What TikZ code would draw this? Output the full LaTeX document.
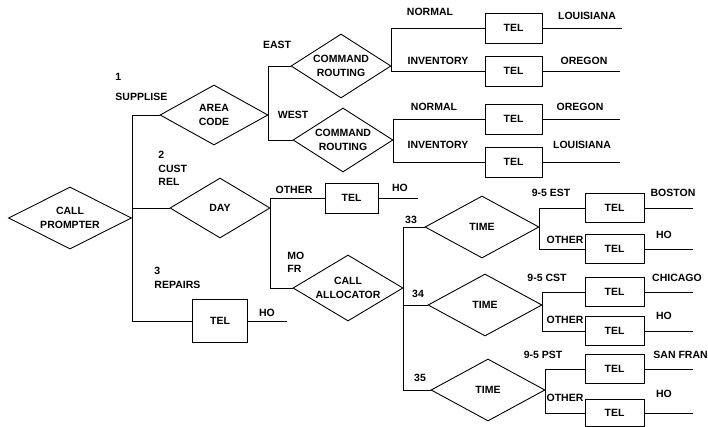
\documentclass[tikz,border=0pt]{standalone}
\usepackage{fontspec}
\setmainfont{Liberation Sans}
\usetikzlibrary{positioning, shapes.geometric}

\begin{document}
\begin{tikzpicture}[
        x=1pt, y=-1pt,
        line width=0.9pt,
        every node/.style={font=\fontsize{10.5}{13.5}\selectfont\bfseries},
        dec/.style={diamond, draw, aspect=2, inner sep=0pt, align=center},
        tel/.style={rectangle, draw, inner sep=0pt, minimum width=57pt, minimum height=30pt},
        telr/.style={tel, minimum width=59pt, minimum height=29pt},
        timebox/.style={dec, minimum width=114pt, minimum height=62pt},
        cmdbox/.style={dec, minimum width=100pt, minimum height=64pt},
        lbl/.style={inner sep=0pt, align=left},
    ]
    \useasboundingbox (0,0) rectangle (708,427);

    % ===== Root =====
    \node[dec, minimum width=123pt, minimum height=62pt] (CP) at (70,218) {CALL\\PROMPTER};

    % ===== Branch 1: supplise =====
    \node[dec, minimum width=108pt, minimum height=60pt] (AC) at (214,115) {AREA\\CODE};
    \node[cmdbox] (CR1) at (341,66) {COMMAND\\ROUTING};
    \node[cmdbox] (CR2) at (343,140) {COMMAND\\ROUTING};

    \node[tel] (T1) at (513.5,28) {TEL};
    \node[tel] (T2) at (513.5,71) {TEL};
    \node[tel] (T3) at (513.5,119) {TEL};
    \node[tel] (T4) at (513.5,162) {TEL};
    \coordinate (E1) at (622,28);
    \coordinate (E2) at (620,71);
    \coordinate (E3) at (620,119);
    \coordinate (E4) at (620,162);

    \draw (CP.east) |- (AC.west);
    \draw (AC.east) |- (CR1.west);
    \draw (AC.east) |- (CR2.west);
    \draw (CR1.east) |- (T1.west);
    \draw (CR1.east) |- (T2.west);
    \draw (CR2.east) |- (T3.west);
    \draw (CR2.east) |- (T4.west);
    \draw (T1.east) -- (E1);
    \draw (T2.east) -- (E2);
    \draw (T3.east) -- (E3);
    \draw (T4.east) -- (E4);

    \node[lbl, anchor=west] (L1) at (115,87) {1\\[6pt]SUPPLISE};
    \node[lbl] (LEA) at (277,45) {EAST};
    \node[lbl] (LWE) at (293,115) {WEST};
    \node[lbl] (LN1) at (430,12) {NORMAL};
    \node[lbl] (LI1) at (438,61) {INVENTORY};
    \node[lbl] (LN2) at (434,107) {NORMAL};
    \node[lbl] (LI2) at (438,145) {INVENTORY};
    \node[lbl] (LLA1) at (587,16) {LOUISIANA};
    \node[lbl] (LOR1) at (584,61) {OREGON};
    \node[lbl] (LOR2) at (580,107) {OREGON};
    \node[lbl] (LLA2) at (582,145) {LOUISIANA};

    % ===== Branch 2: cust rel =====
    \node[dec, minimum width=100pt, minimum height=60pt] (DAY) at (220,208) {DAY};
    \node[tel, minimum width=53pt] (TOTH) at (351.5,198) {TEL};
    \node[dec, minimum width=110pt, minimum height=66pt] (CA) at (348,288) {CALL\\ALLOCATOR};
    \coordinate (EOTH) at (418,198);

    \draw (CP.east) |- (DAY.west);
    \draw (DAY.east) |- (TOTH.west);
    \draw (DAY.east) |- (CA.west);
    \draw (TOTH.east) -- (EOTH);

    \node[lbl, anchor=west] (L2) at (158,168.5) {2\\CUST\\REL};
    \node[lbl] (LOT) at (294,190) {OTHER};
    \node[lbl] (LHO1) at (400,188) {HO};
    \node[lbl, anchor=west] (LMF) at (287,262.5) {MO\\FR};

    % time checks
    \node[timebox] (TM1) at (482,227) {TIME};
    \node[timebox] (TM2) at (485,305) {TIME};
    \node[timebox] (TM3) at (488,390) {TIME};

    \node[telr] (TE) at (614.5,208) {TEL};
    \node[telr] (TO1) at (614.5,249) {TEL};
    \node[telr] (TC) at (614.5,292) {TEL};
    \node[telr] (TO2) at (614.5,331) {TEL};
    \node[telr] (TP) at (614.5,369) {TEL};
    \node[telr, minimum height=27pt] (TO3) at (614.5,413) {TEL};
    \coordinate (EE) at (693,208);
    \coordinate (EO1) at (693,249);
    \coordinate (EC) at (693,292);
    \coordinate (EO2) at (693,331);
    \coordinate (EP) at (693,369);
    \coordinate (EO3) at (693,413);

    \draw (CA.east) |- (TM1.west);
    \draw (CA.east) |- (TM2.west);
    \draw (CA.east) |- (TM3.west);
    \draw (TM1.east) |- (TE.west);
    \draw (TM1.east) |- (TO1.west);
    \draw (TM2.east) |- (TC.west);
    \draw (TM2.east) |- (TO2.west);
    \draw (TM3.east) |- (TP.west);
    \draw (TM3.east) |- (TO3.west);
    \draw (TE.east) -- (EE);
    \draw (TO1.east) -- (EO1);
    \draw (TC.east) -- (EC);
    \draw (TO2.east) -- (EO2);
    \draw (TP.east) -- (EP);
    \draw (TO3.east) -- (EO3);

    \node[lbl] (L33) at (411,220) {33};
    \node[lbl] (L34) at (418,294) {34};
    \node[lbl] (L35) at (420,378) {35};
    \node[lbl] (LEST) at (551,193) {9-5 EST};
    \node[lbl] (LCST) at (547,278) {9-5 CST};
    \node[lbl] (LPST) at (543,355) {9-5 PST};
    \node[lbl] (LOT1) at (565,240) {OTHER};
    \node[lbl] (LOT2) at (565,320) {OTHER};
    \node[lbl] (LOT3) at (565,398) {OTHER};
    \node[lbl] (LBOS) at (673,193) {BOSTON};
    \node[lbl] (LCHI) at (677,278) {CHICAGO};
    \node[lbl, anchor=west] (LSF) at (653,355) {SAN FRAN};
    \node[lbl] (LHO2) at (664,235) {HO};
    \node[lbl] (LHO3) at (664,316) {HO};
    \node[lbl] (LHO4) at (664,394) {HO};

    % ===== Branch 3: repairs =====
    \node[tel, minimum width=55pt, minimum height=43pt] (T0) at (220,321) {TEL};
    \coordinate (E0) at (287,321);
    \draw (CP.east) |- (T0.west);
    \draw (T0.east) -- (E0);

    \node[lbl, anchor=west] (L3) at (154,278) {3\\REPAIRS};
    \node[lbl] (LHO0) at (267,313) {HO};

\end{tikzpicture}
\end{document}
